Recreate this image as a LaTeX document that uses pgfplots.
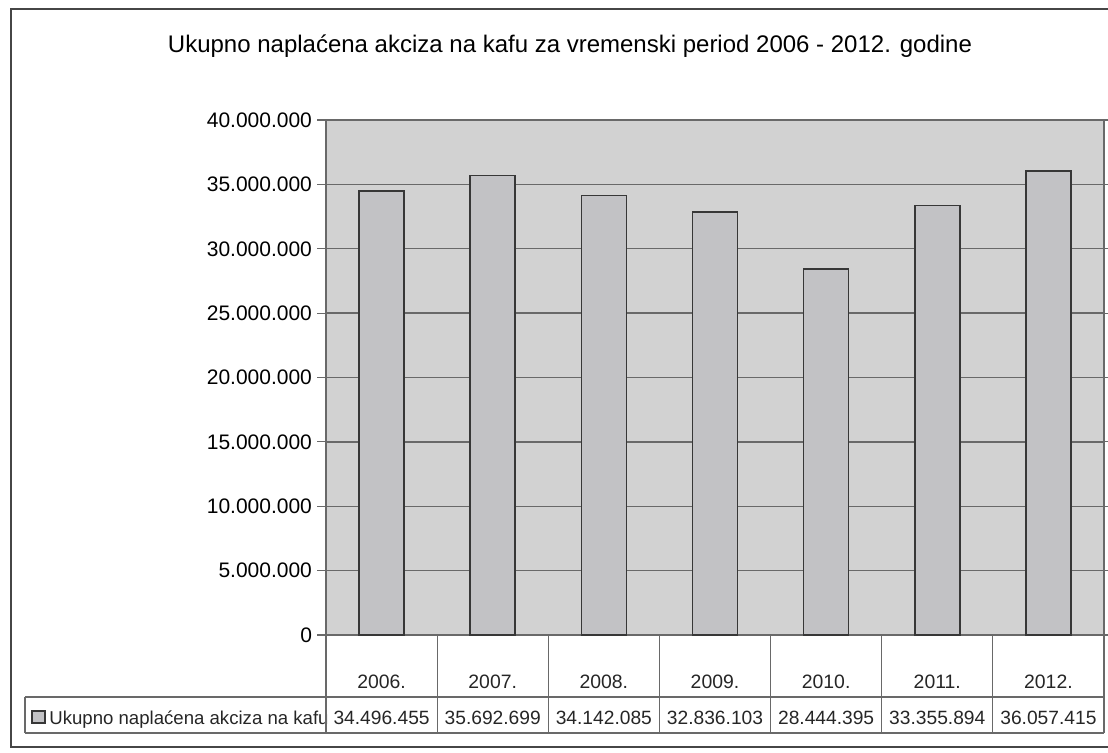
\documentclass[border=0pt]{standalone}
\usepackage{pgfplots}
\pgfplotsset{compat=1.18}
\usepackage{fontspec}
\setmainfont{Liberation Sans}
\definecolor{bgc}{RGB}{210,210,210}
\definecolor{barc}{RGB}{194,194,197}
\definecolor{barl}{RGB}{55,55,55}
\definecolor{gridc}{RGB}{105,105,105}
\definecolor{framec}{RGB}{70,70,70}
\begin{document}
\begin{tikzpicture}
\path[use as bounding box] (0pt,0pt) rectangle (554pt,-376pt);
\begin{axis}[
  at={(163pt,-317.5pt)}, anchor=south west,
  scale only axis, width=389pt, height=257.5pt,
  xmin=-0.5, xmax=6.5, ymin=0, ymax=40000000,
  xtick=\empty,
  ytick={0,5000000,10000000,15000000,20000000,25000000,30000000,35000000,40000000},
  yticklabels={0,5.000.000,10.000.000,15.000.000,20.000.000,25.000.000,30.000.000,35.000.000,40.000.000},
  yticklabel style={font=\fontsize{10.5}{12}\selectfont, text=black, xshift=1pt},
  ytick align=outside, major tick length=4.5pt,
  ytick style={gridc, line width=0.6pt},
  ymajorgrids, grid style={gridc, line width=0.7pt},
  axis line style={gridc, line width=0.6pt},
  axis background/.style={fill=bgc},
  scaled y ticks=false,
  clip=false,
]
\addplot[ybar, bar width=22.5pt, fill=barc, draw=barl, line width=0.8pt]
  coordinates {(0,34496455) (1,35692699) (2,34142085) (3,32836103) (4,28444395) (5,33355894) (6,36057415)};
\end{axis}
\begin{scope}[x=0.5pt,y=-0.5pt]
  \node[anchor=base, font=\fontsize{12}{14}\selectfont] at (570,52) {Ukupno naplaćena akciza na kafu za vremenski period 2006 - 2012. godine};
  % table
  \draw[gridc, line width=0.6pt] (25,697) -- (1104,697);
  \draw[gridc, line width=0.6pt] (25,733) -- (1104,733);
  \draw[gridc, line width=0.6pt] (25,697) -- (25,733);
  \foreach \y [count=\i from 0] in {2006.,2007.,2008.,2009.,2010.,2011.,2012.} {
    \node[anchor=base, font=\fontsize{9.7}{12}\selectfont, text=black!85] at ({326+111.14*(\i+0.5)},688) {\y};
  }
  \foreach \v [count=\i from 0] in {34.496.455,35.692.699,34.142.085,32.836.103,28.444.395,33.355.894,36.057.415} {
    \node[anchor=base, font=\fontsize{9.6}{12}\selectfont, text=black!85] at ({326+111.14*(\i+0.5)},724) {\v};
  }
  \draw[barl, fill=barc, line width=0.6pt] (32,711) rectangle (45,723);
  \begin{scope}
    \clip (26,698) rectangle (327,732);
    \node[anchor=base west, inner sep=0pt, font=\fontsize{9.3}{12}\selectfont, text=black!85] at (49,724) {Ukupno naplaćena akciza na kafu};
  \end{scope}
  \foreach \k in {0,...,7} {
    \draw[gridc, line width=0.6pt] ({326+111.14*\k},635) -- ({326+111.14*\k},733);
  }
  % outer frame
  \draw[framec, line width=1pt] (11,9) rectangle (1120,747);
\end{scope}
\end{tikzpicture}
\end{document}
